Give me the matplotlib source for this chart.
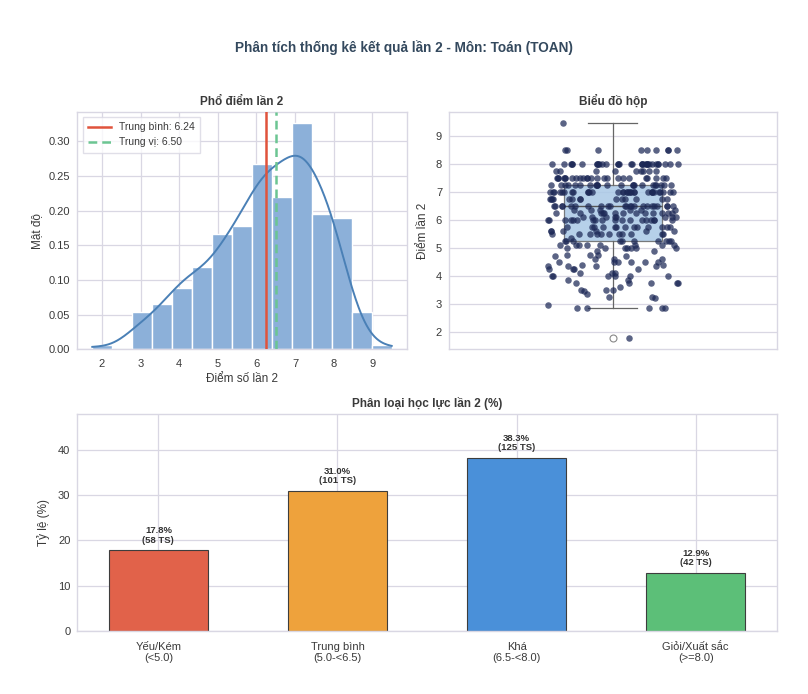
import numpy as np
import matplotlib
matplotlib.use("Agg")
import matplotlib.pyplot as plt
from matplotlib.lines import Line2D

# ---------------- data ----------------
score_values = [1.75, 2.85, 2.95, 3.2, 3.25, 3.35, 3.45, 3.5, 3.6, 3.75,
                3.85, 4.0, 4.1, 4.25, 4.35, 4.4, 4.5, 4.6, 4.7, 4.75,
                4.9, 5.0, 5.1, 5.25, 5.35, 5.5, 5.6, 5.75, 6.0, 6.1,
                6.25, 6.35, 6.5, 6.75, 7.0, 7.25, 7.5, 7.75, 8.0, 8.5, 9.5]
score_counts = [1, 5, 1, 1, 2, 1, 1, 3, 1, 5,
                2, 6, 3, 4, 4, 2, 6, 3, 2, 3,
                2, 7, 8, 10, 1, 11, 6, 13, 18, 8,
                13, 6, 23, 14, 32, 23, 24, 9, 32, 9, 1]

categories = ["Yếu/Kém\n(<5.0)", "Trung bình\n(5.0-<6.5)", "Khá\n(6.5-<8.0)", "Giỏi/Xuất sắc\n(>=8.0)"]
cat_counts = [58, 101, 125, 42]
cat_colors = ["#e1624a", "#eea23c", "#4a90d9", "#5cbf78"]

title = "Phân tích thống kê kết quả lần 2 - Môn: Toán (TOAN)"

scores = np.repeat(np.array(score_values), score_counts)
mean_v = scores.mean()
median_v = np.median(scores)
total = sum(cat_counts)
cat_pct = [c / total * 100 for c in cat_counts]

# ---------------- style ----------------
plt.rcParams["font.family"] = ["Liberation Sans", "DejaVu Sans"]
grid_c = "#d9d7e3"
text_c = "#3a3a3a"
plt.rcParams.update({
    "axes.edgecolor": grid_c,
    "axes.linewidth": 1.0,
    "grid.color": grid_c,
    "grid.linewidth": 0.9,
    "xtick.color": text_c,
    "ytick.color": text_c,
    "axes.labelcolor": text_c,
    "text.color": text_c,
    "xtick.major.size": 0,
    "ytick.major.size": 0,
    "xtick.major.pad": 5,
    "ytick.major.pad": 5,
})

fig = plt.figure(figsize=(8.08, 6.94), dpi=100)
fig.text(0.5, 0.932, title, ha="center", va="center", fontsize=9.8,
         fontweight="bold", color="#34495e")

# ---------------- histogram ----------------
ax1 = fig.add_axes([0.0957, 0.4967, 0.4076, 0.3423])
ax1.set_axisbelow(True)
ax1.grid(True)
bins = np.linspace(scores.min(), scores.max(), 16)
ax1.hist(scores, bins=bins, density=True, color="#8cb0d9", edgecolor="white",
         linewidth=1.0, zorder=2)
# Gaussian KDE (Scott's rule)
n = len(scores)
bw = scores.std(ddof=1) * n ** (-1 / 5)
xs = np.linspace(scores.min(), scores.max(), 300)
dens = np.exp(-0.5 * ((xs[:, None] - scores[None, :]) / bw) ** 2).sum(axis=1) / (n * bw * np.sqrt(2 * np.pi))
ax1.plot(xs, dens, color="#4a80b6", lw=1.4, zorder=3)
ax1.axvline(mean_v, color="#e0533c", lw=1.8, zorder=4)
ax1.axvline(median_v, color="#6cc592", lw=1.8, ls=(0, (3.5, 2)), zorder=4)
ax1.set_xticks(range(2, 10))
ax1.set_yticks(np.arange(0, 0.31, 0.05))
ax1.yaxis.set_major_formatter(matplotlib.ticker.FormatStrFormatter("%.2f"))
ax1.tick_params(labelsize=8)
ax1.tick_params(axis="x", pad=7)
ax1.set_xlabel("Điểm số lần 2", fontsize=8.5, labelpad=3)
ax1.set_ylabel("Mật độ", fontsize=8.5)
ax1.set_title("Phổ điểm lần 2", fontsize=8.5, fontweight="bold", pad=5)
handles = [Line2D([], [], color="#e0533c", lw=1.8),
           Line2D([], [], color="#6cc592", lw=1.8, ls=(0, (3.5, 2)))]
ax1.legend(handles, [f"Trung bình: {mean_v:.2f}", f"Trung vị: {median_v:.2f}"],
           loc="upper left", fontsize=7.5, frameon=True, edgecolor=grid_c,
           fancybox=False, borderpad=0.5, handlelength=2.2, labelspacing=0.5)

# ---------------- box plot ----------------
ax2 = fig.add_axes([0.5557, 0.4967, 0.4056, 0.3423])
ax2.set_axisbelow(True)
ax2.yaxis.grid(True)
ax2.xaxis.grid(False)
ax2.boxplot(scores, positions=[0], widths=0.3, patch_artist=True,
            boxprops=dict(facecolor="#a9c8e6", edgecolor="#666666", linewidth=0.9, alpha=0.85),
            medianprops=dict(color="#555555", linewidth=1.0),
            whiskerprops=dict(color="#666666", linewidth=0.9),
            capprops=dict(color="#666666", linewidth=0.9),
            flierprops=dict(marker="o", markerfacecolor="white", markeredgecolor="#888888",
                            markersize=5, markeredgewidth=0.8))
rng = np.random.default_rng(7)
jit = rng.uniform(-0.2, 0.2, size=n)
ax2.scatter(jit, scores, s=22, color="#1c2856", alpha=0.72, linewidths=0, zorder=5)
ax2.set_xlim(-0.5, 0.5)
ax2.set_xticks([])
ax2.set_yticks(range(2, 10))
ax2.tick_params(labelsize=8)
ax2.set_ylabel("Điểm lần 2", fontsize=8.5, labelpad=5)
ax2.set_title("Biểu đồ hộp", fontsize=8.5, fontweight="bold", pad=5)

# ---------------- bar chart ----------------
ax3 = fig.add_axes([0.0957, 0.0912, 0.8656, 0.3118])
ax3.set_axisbelow(True)
ax3.grid(True)
xpos = np.arange(len(categories))
bars = ax3.bar(xpos, cat_pct, width=0.55, color=cat_colors, edgecolor="#3d3d3d",
               linewidth=0.8, zorder=2)
for b, p, c in zip(bars, cat_pct, cat_counts):
    ax3.annotate(f"{p:.1f}%\n({c} TS)", (b.get_x() + b.get_width() / 2, b.get_height()),
                 xytext=(0, 4), textcoords="offset points", ha="center", va="bottom",
                 fontsize=6.8, fontweight="bold", color="#333333", linespacing=1.05)
ax3.set_xticks(xpos)
ax3.set_xticklabels(categories, fontsize=8, linespacing=1.15)
ax3.tick_params(axis="x", pad=8)
ax3.set_ylim(0, max(cat_pct) * 1.25)
ax3.set_yticks(range(0, 41, 10))
ax3.tick_params(axis="y", labelsize=8)
ax3.set_ylabel("Tỷ lệ (%)", fontsize=8.5, labelpad=6)
ax3.set_title("Phân loại học lực lần 2 (%)", fontsize=8.5, fontweight="bold", pad=5)

fig.savefig("out.png", dpi=100, facecolor="white")
